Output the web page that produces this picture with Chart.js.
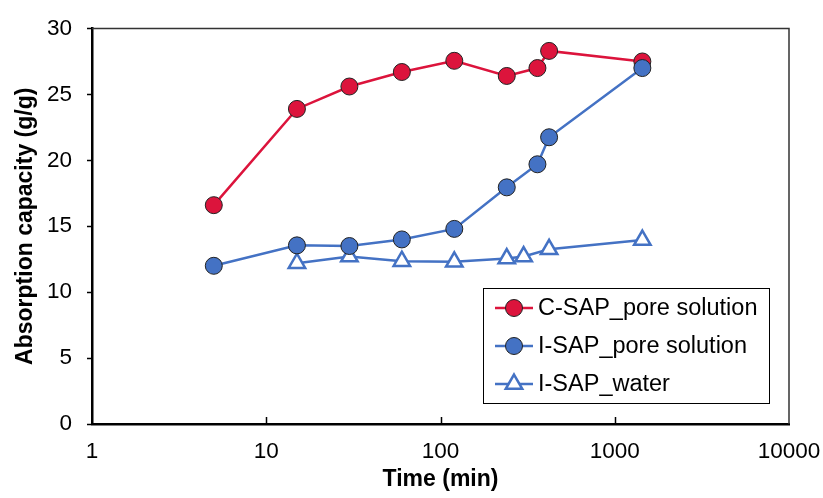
<!DOCTYPE html>
<html>
<head>
<meta charset="utf-8">
<script src="https://cdn.jsdelivr.net/npm/chart.js@4.4.1/dist/chart.umd.min.js"></script>
<style>
body{margin:0;background:#fff;}
#wrap{width:823px;height:498px;}
</style>
</head>
<body>
<div id="wrap"><canvas id="absorptionChart" width="823" height="498"></canvas></div>
<script>
// time in minutes
const timeC = [5, 15, 30, 60, 120, 240, 360, 420, 1440];
const cSapPore = [16.6, 23.9, 25.6, 26.7, 27.55, 26.4, 27.0, 28.3, 27.5];

const timeI = [5, 15, 30, 60, 120, 240, 360, 420, 1440];
const iSapPore = [12.0, 13.55, 13.5, 14.0, 14.8, 17.95, 19.7, 21.75, 27.0];

const timeW = [15, 30, 60, 120, 240, 300, 420, 1440];
const iSapWater = [12.2, 12.7, 12.35, 12.3, 12.55, 12.7, 13.25, 13.95];

const xTicks = [1, 10, 100, 1000, 10000];
const seriesNames = ['C-SAP_pore solution', 'I-SAP_pore solution', 'I-SAP_water'];

const red = '#DC143C';
const blue = '#4472C4';
const font = 'Liberation Sans, Arial, sans-serif';

const toPoints = (xs, ys) => xs.map((x, i) => ({x: x, y: ys[i]}));

function markerPath(ctx, style, x, y, r){
  ctx.beginPath();
  if(style === 'triangle'){
    ctx.moveTo(x, y - r);
    ctx.lineTo(x + Math.sin(Math.PI / 3) * r, y + r / 2);
    ctx.lineTo(x - Math.sin(Math.PI / 3) * r, y + r / 2);
    ctx.closePath();
  }else{
    ctx.arc(x, y, r, 0, Math.PI * 2);
  }
}

// frame lines on top/right, inner ticks on x, legend box
const extras = {
  id: 'extras',
  afterDraw(chart){
    const ctx = chart.ctx;
    const a = chart.chartArea;
    const xs = chart.scales.x;
    ctx.save();

    ctx.strokeStyle = '#333';
    ctx.lineWidth = 1.5;
    ctx.beginPath();
    ctx.moveTo(a.left, a.top);
    ctx.lineTo(a.right, a.top);
    ctx.lineTo(a.right, a.bottom);
    ctx.stroke();

    ctx.strokeStyle = '#000';
    ctx.lineWidth = 1.5;
    xTicks.slice(1, -1).forEach(v => {
      const px = Math.round(xs.getPixelForValue(v)) + 0.5;
      ctx.beginPath();
      ctx.moveTo(px, a.bottom);
      ctx.lineTo(px, a.bottom - 7);
      ctx.stroke();
    });

    // legend
    const lx = a.right - 306, ly = a.bottom - 136, lw = 286, lh = 115;
    ctx.fillStyle = '#fff';
    ctx.fillRect(lx, ly, lw, lh);
    ctx.strokeStyle = '#000';
    ctx.lineWidth = 1;
    ctx.strokeRect(lx + 0.5, ly + 0.5, lw, lh);

    ctx.font = '23.5px ' + font;
    ctx.textBaseline = 'middle';
    ctx.textAlign = 'left';
    chart.data.datasets.forEach((ds, i) => {
      const cy = ly + 20 + i * 38;
      ctx.strokeStyle = ds.borderColor;
      ctx.lineWidth = ds.borderWidth;
      ctx.beginPath();
      ctx.moveTo(lx + 12, cy);
      ctx.lineTo(lx + 50, cy);
      ctx.stroke();
      markerPath(ctx, ds.pointStyle, lx + 31, cy, ds.pointRadius);
      ctx.fillStyle = ds.pointBackgroundColor;
      ctx.fill();
      ctx.strokeStyle = ds.pointBorderColor;
      ctx.lineWidth = ds.pointBorderWidth;
      ctx.stroke();
      ctx.fillStyle = '#000';
      ctx.fillText(ds.label, lx + 55, cy + 1);
    });
    ctx.restore();
  }
};

new Chart(document.getElementById('absorptionChart'), {
  type: 'line',
  data: {
    datasets: [{
      label: seriesNames[0],
      data: toPoints(timeC, cSapPore),
      borderColor: red,
      borderWidth: 2.5,
      pointStyle: 'circle',
      pointRadius: 8.5,
      pointBackgroundColor: red,
      pointBorderColor: '#222',
      pointBorderWidth: 1,
      order: 2
    }, {
      label: seriesNames[1],
      data: toPoints(timeI, iSapPore),
      borderColor: blue,
      borderWidth: 2.5,
      pointStyle: 'circle',
      pointRadius: 8.5,
      pointBackgroundColor: blue,
      pointBorderColor: '#222',
      pointBorderWidth: 1,
      order: 1
    }, {
      label: seriesNames[2],
      data: toPoints(timeW, iSapWater),
      borderColor: blue,
      borderWidth: 2.5,
      pointStyle: 'triangle',
      pointRadius: 9.5,
      pointBackgroundColor: '#fff',
      pointBorderColor: blue,
      pointBorderWidth: 2.5,
      order: 3
    }]
  },
  options: {
    responsive: false,
    animation: false,
    devicePixelRatio: 1,
    layout: {padding: {left: 0, top: 23, right: 34, bottom: 0}},
    plugins: {
      legend: {display: false},
      tooltip: {enabled: false}
    },
    scales: {
      x: {
        type: 'logarithmic',
        min: 1,
        max: 10000,
        afterBuildTicks: scale => { scale.ticks = xTicks.map(v => ({value: v})); },
        afterFit: scale => {
          scale.height = 74;
          scale.paddingLeft = 0;
          scale.paddingRight = 0;
        },
        grid: {display: false, drawTicks: false},
        border: {display: true, color: '#000', width: 2.5},
        ticks: {
          autoSkip: false,
          maxRotation: 0,
          padding: 14,
          color: '#000',
          font: {family: font, size: 22.5},
          callback: v => String(v)
        },
        title: {
          display: true,
          text: 'Time (min)',
          color: '#000',
          padding: {top: 0, bottom: 5},
          font: {family: font, size: 23, weight: 'bold'}
        }
      },
      y: {
        min: 0,
        max: 30,
        afterFit: scale => { scale.width = 92; },
        grid: {drawOnChartArea: false, drawTicks: true, tickLength: 5, tickColor: '#000', tickWidth: 1.5},
        border: {display: true, color: '#000', width: 2.5},
        ticks: {
          stepSize: 5,
          padding: 15,
          color: '#000',
          font: {family: font, size: 22.5}
        },
        title: {
          display: true,
          text: 'Absorption capacity (g/g)',
          color: '#000',
          padding: {top: 12, bottom: 0},
          font: {family: font, size: 23, weight: 'bold'}
        }
      }
    }
  },
  plugins: [extras]
});
</script>
</body>
</html>
